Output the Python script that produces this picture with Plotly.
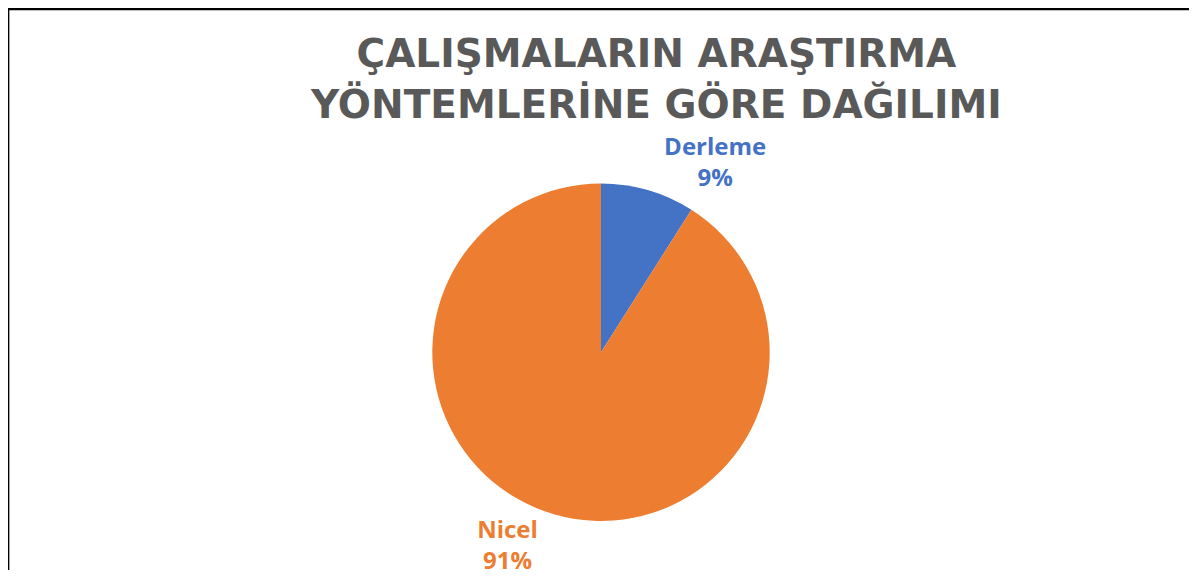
import plotly.graph_objects as go

categories = ["Derleme", "Nicel"]
values = [9, 91]
colors = ["#4472C4", "#ED7D31"]
title_lines = ["ÇALIŞMALARIN ARAŞTIRMA", "YÖNTEMLERİNE GÖRE DAĞILIMI"]

# The page body adds an 8px offset; the figure is sized to fit the window.
OFF = 8
W, H = 1197 - OFF, 581 - OFF


def px_x(x):
    return (x - OFF) / W


def px_y(y):
    return 1 - (y - OFF) / H


fig = go.Figure(go.Pie(
    labels=categories,
    values=values,
    sort=False,
    direction="clockwise",
    rotation=0,
    marker=dict(colors=colors, line=dict(width=0)),
    texttemplate="<b>%{label}</b><br><b>%{percent:.0%}</b>",
    textposition="outside",
    outsidetextfont=dict(family="Open Sans", size=24, color=colors),
    domain=dict(x=[px_x(601) - 0.3, px_x(601) + 0.3], y=[px_y(531), px_y(187)]),
    showlegend=False,
    hoverinfo="label+percent",
))

fig.update_layout(
    width=W, height=H,
    margin=dict(l=0, r=0, t=0, b=0),
    paper_bgcolor="white",
    plot_bgcolor="white",
    annotations=[dict(
        text="<b>" + "<br>".join(title_lines) + "</b>", xref="paper", yref="paper",
        x=px_x(656), y=px_y(80), xanchor="center", yanchor="middle",
        showarrow=False,
        font=dict(family="DejaVu Sans", size=39, color="#595959"),
    )],
    shapes=[
        dict(type="line", xref="paper", yref="paper", x0=0, x1=1, y0=1 - 1 / H, y1=1 - 1 / H,
             line=dict(color="black", width=2.5)),
        dict(type="line", xref="paper", yref="paper", x0=0.6 / W, x1=0.6 / W, y0=0, y1=1,
             line=dict(color="black", width=1.5)),
    ],
)

fig.write_html("out.html")
